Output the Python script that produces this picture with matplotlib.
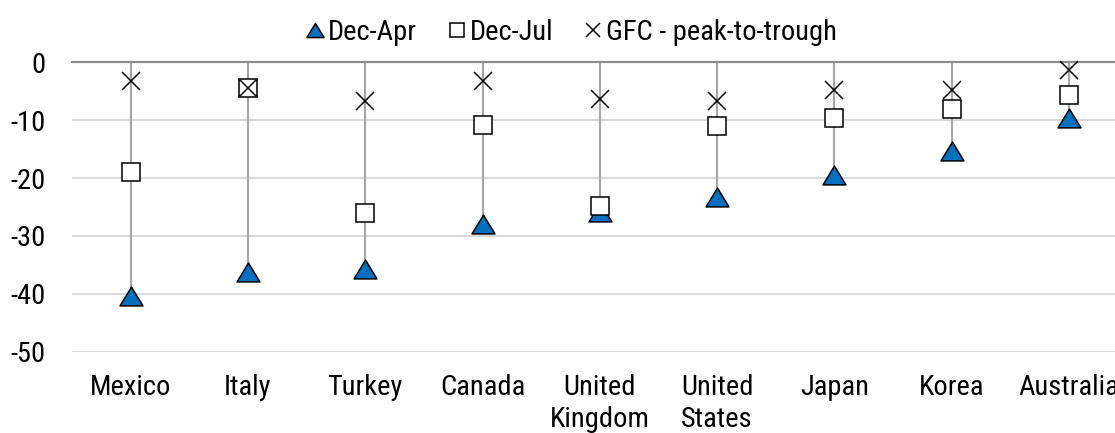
import matplotlib
matplotlib.use("Agg")
import matplotlib.pyplot as plt
from matplotlib.path import Path
from matplotlib.lines import Line2D
import numpy as np

categories = ["Mexico", "Italy", "Turkey", "Canada", "United\nKingdom",
              "United\nStates", "Japan", "Korea", "Australia"]
dec_apr = [-40.4, -36.2, -35.7, -27.9, -25.9, -23.3, -19.5, -15.4, -9.6]
dec_jul = [-18.9, -4.5, -26.1, -10.8, -24.9, -11.0, -9.7, -8.0, -5.6]
gfc = [-3.2, -4.5, -6.7, -3.2, -6.3, -6.6, -4.7, -4.7, -1.4]
yticks = [0, -10, -20, -30, -40, -50]

plt.rcParams['font.family'] = ['Roboto Condensed', 'Open Sans Condensed', 'Liberation Sans', 'DejaVu Sans']
FS = 20.5

W, H = 1115, 433
fig = plt.figure(figsize=(W / 100, H / 100), dpi=100)
left, right = 72, 1115
top, bottom = 62.3, 351.7
ax = fig.add_axes([left / W, 1 - bottom / H, (right - left) / W, (bottom - top) / H])

x = np.arange(len(categories))
ax.set_xlim(-0.5, -0.5 + (right - left) / 117.3)
ax.set_ylim(-50, 0)

for t in yticks:
    if t == 0:
        ax.axhline(t, color="#8C8C8C", lw=1.6, zorder=2, clip_on=False)
    else:
        ax.axhline(t, color="#D9D9D9", lw=1.5, zorder=0)

lows = np.minimum(np.minimum(dec_apr, dec_jul), gfc)
ax.vlines(x, lows, 0, colors="#A6A6A6", lw=1.5, zorder=1)

tri = Path([(0, 1), (-1.22, -1), (1.22, -1), (0, 1)],
           [Path.MOVETO, Path.LINETO, Path.LINETO, Path.CLOSEPOLY])

ax.plot(x, dec_apr, linestyle="none", marker=tri, markersize=16.5,
        markerfacecolor="#0070C0", markeredgecolor="black", markeredgewidth=1.1,
        zorder=3, clip_on=False)
ax.plot(x, dec_jul, linestyle="none", marker="s", markersize=13.5,
        markerfacecolor="white", markeredgecolor="black", markeredgewidth=1.1,
        zorder=4, clip_on=False)
ax.plot(x, gfc, linestyle="none", marker="x", markersize=12.5,
        markeredgecolor="black", markeredgewidth=1.1, zorder=5, clip_on=False)

ax.set_xticks(x)
ax.set_xticklabels(categories, fontsize=FS)
for lab in ax.get_xticklabels():
    lab.set_linespacing(1.25)
ax.set_yticks(yticks)
ax.set_yticklabels([str(t) for t in yticks], fontsize=FS)
ax.tick_params(axis="x", length=0, pad=16)
ax.tick_params(axis="y", length=0, pad=19)
for s in ax.spines.values():
    s.set_visible(False)
ax.set_facecolor("none")

handles = [
    Line2D([], [], linestyle="none", marker=tri, markersize=16.5, markerfacecolor="#0070C0",
           markeredgecolor="black", markeredgewidth=1.1),
    Line2D([], [], linestyle="none", marker="s", markersize=13.5, markerfacecolor="white",
           markeredgecolor="black", markeredgewidth=1.1),
    Line2D([], [], linestyle="none", marker="x", markersize=12.5,
           markeredgecolor="black", markeredgewidth=1.1),
]
fig.legend(handles, ["Dec-Apr", "Dec-Jul", "GFC - peak-to-trough"],
           loc="center", bbox_to_anchor=(572 / W, 1 - 32 / H), ncol=3, frameon=False,
           fontsize=FS, markerscale=0.75, handlelength=0.6, handletextpad=0.15,
           columnspacing=1.1, borderpad=0, borderaxespad=0)

fig.savefig("out.png", dpi=100)
